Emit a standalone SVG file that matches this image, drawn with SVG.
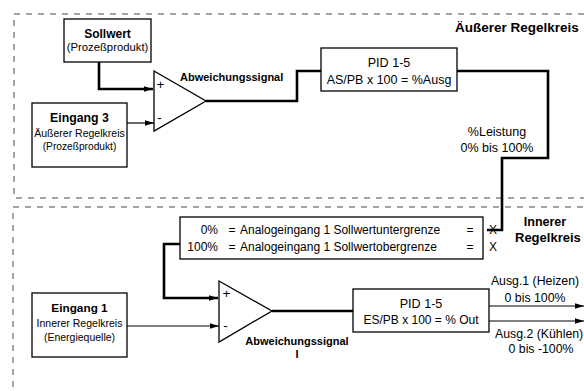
<svg xmlns="http://www.w3.org/2000/svg" width="584" height="391" viewBox="0 0 584 391">
<style>
text{font-family:"Liberation Sans",Arial,sans-serif;fill:#000}
.b{font-weight:bold}
.box{fill:#fff;stroke:#000;stroke-width:1.3}
.tri{fill:#fff;stroke:#000;stroke-width:1.3}
.dash{fill:none;stroke:#a3a3a3;stroke-width:2;stroke-dasharray:6 6}
.thick{fill:none;stroke:#000;stroke-width:2.6}
.thin{fill:none;stroke:#000;stroke-width:1.2}
.m{text-anchor:middle}
.e{text-anchor:end}
</style>
<defs>
<marker id="ah" markerUnits="userSpaceOnUse" viewBox="0 0 10 6" refX="10" refY="3" markerWidth="9" markerHeight="6" orient="auto">
<path d="M0,0 L10,3 L0,6 z" fill="#000"/>
</marker>
</defs>
<rect width="584" height="391" fill="#fff"/>
<g id="regions">
<rect class="dash" x="14" y="14" width="620" height="184"/>
<rect class="dash" x="13" y="207" width="620" height="220"/>
<text class="b" x="455" y="32" font-size="13.5">Äußerer Regelkreis</text>
<text class="b m" x="545" y="226" font-size="12.5">Innerer</text>
<text class="b" x="515" y="242" font-size="13">Regelkreis</text>
</g>
<g id="connectors">
<path class="thick" d="M99 62 V89 H153" marker-end="url(#ah)"/>
<path class="thin" d="M127 123 H154" marker-end="url(#ah)"/>
<path class="thick" d="M206 101 H297 V71 H321"/>
<path class="thick" d="M457 71 H548 V158 H502 V230 H487"/>
<path class="thick" d="M180 244 H164 V298 H218" marker-end="url(#ah)"/>
<path class="thin" d="M127 326 H219" marker-end="url(#ah)"/>
<path class="thick" d="M272 311 H353"/>
<path class="thin" d="M489 306 H584" marker-end="url(#ah)"/>
<path class="thin" d="M489 321 H584" marker-end="url(#ah)"/>
</g>
<g id="sollwert">
<rect class="box" x="64" y="19" width="87" height="43"/>
<text class="b m" x="107.5" y="37.5" font-size="12">Sollwert</text>
<text class="m" x="107.5" y="51" font-size="11.3">(Prozeßprodukt)</text>
</g>
<g id="eingang3">
<rect class="box" x="32" y="103" width="95" height="64"/>
<text class="b m" x="79.5" y="122" font-size="12.3">Eingang 3</text>
<text class="m" x="79.5" y="137" font-size="10.5">Äußerer Regelkreis</text>
<text class="m" x="79.5" y="150" font-size="10.2">(Prozeßprodukt)</text>
</g>
<g id="summer1">
<path class="tri" d="M154 71 L206 101 L154 131 Z"/>
<text class="m" x="160.5" y="88.5" font-size="13.5">+</text>
<text class="m" x="159.5" y="121.5" font-size="13.5">-</text>
<text class="b" x="180" y="81" font-size="11">Abweichungssignal</text>
</g>
<g id="pid1">
<rect class="box" x="321" y="48" width="136" height="43"/>
<text class="m" x="389" y="66.5" font-size="12.6">PID 1-5</text>
<text class="m" x="389" y="83.5" font-size="12.5">AS/PB x 100 = %Ausg</text>
</g>
<g id="leistung">
<text class="m" x="497" y="136" font-size="12.5">%Leistung</text>
<text class="m" x="497" y="152" font-size="12.5">0% bis 100%</text>
</g>
<g id="range">
<rect class="box" x="180" y="217" width="303" height="42"/>
<text class="e" x="218" y="234" font-size="12">0%</text>
<text class="m" x="232" y="234" font-size="12">=</text>
<text x="240" y="234" font-size="12">Analogeingang 1 Sollwertuntergrenze</text>
<text class="m" x="470" y="234" font-size="12">=</text>
<text class="e" x="218" y="251" font-size="12">100%</text>
<text class="m" x="232" y="251" font-size="12">=</text>
<text x="240" y="251" font-size="12">Analogeingang 1 Sollwertobergrenze</text>
<text class="m" x="470" y="251" font-size="12">=</text>
<text class="m" x="493" y="234" font-size="12">X</text>
<text class="m" x="493" y="251" font-size="12">X</text>
</g>
<g id="eingang1">
<rect class="box" x="32" y="293" width="95" height="64"/>
<text class="b m" x="79.5" y="312" font-size="11.8">Eingang 1</text>
<text class="m" x="79.5" y="327" font-size="10.5">Innerer Regelkreis</text>
<text class="m" x="79.5" y="341" font-size="10.5">(Energiequelle)</text>
</g>
<g id="summer2">
<path class="tri" d="M219 281 L272 311 L219 342 Z"/>
<text class="m" x="226.5" y="297.5" font-size="13.5">+</text>
<text class="m" x="225.5" y="329.5" font-size="13.5">-</text>
<text class="b m" x="297" y="345" font-size="11">Abweichungssignal</text>
<text class="b m" x="297" y="357.5" font-size="11">I</text>
</g>
<g id="pid2">
<rect class="box" x="353" y="289" width="136" height="43"/>
<text class="m" x="421" y="308" font-size="12.6">PID 1-5</text>
<text class="m" x="421" y="324" font-size="12">ES/PB x 100 = % Out</text>
</g>
<g id="outputs">
<text class="m" x="535" y="284.5" font-size="12.3">Ausg.1 (Heizen)</text>
<text class="m" x="535" y="302" font-size="12.3">0 bis 100%</text>
<text x="495" y="337.5" font-size="12.3">Ausg.2 (Kühlen)</text>
<text class="m" x="541" y="353" font-size="12.3">0 bis -100%</text>
</g>
</svg>
